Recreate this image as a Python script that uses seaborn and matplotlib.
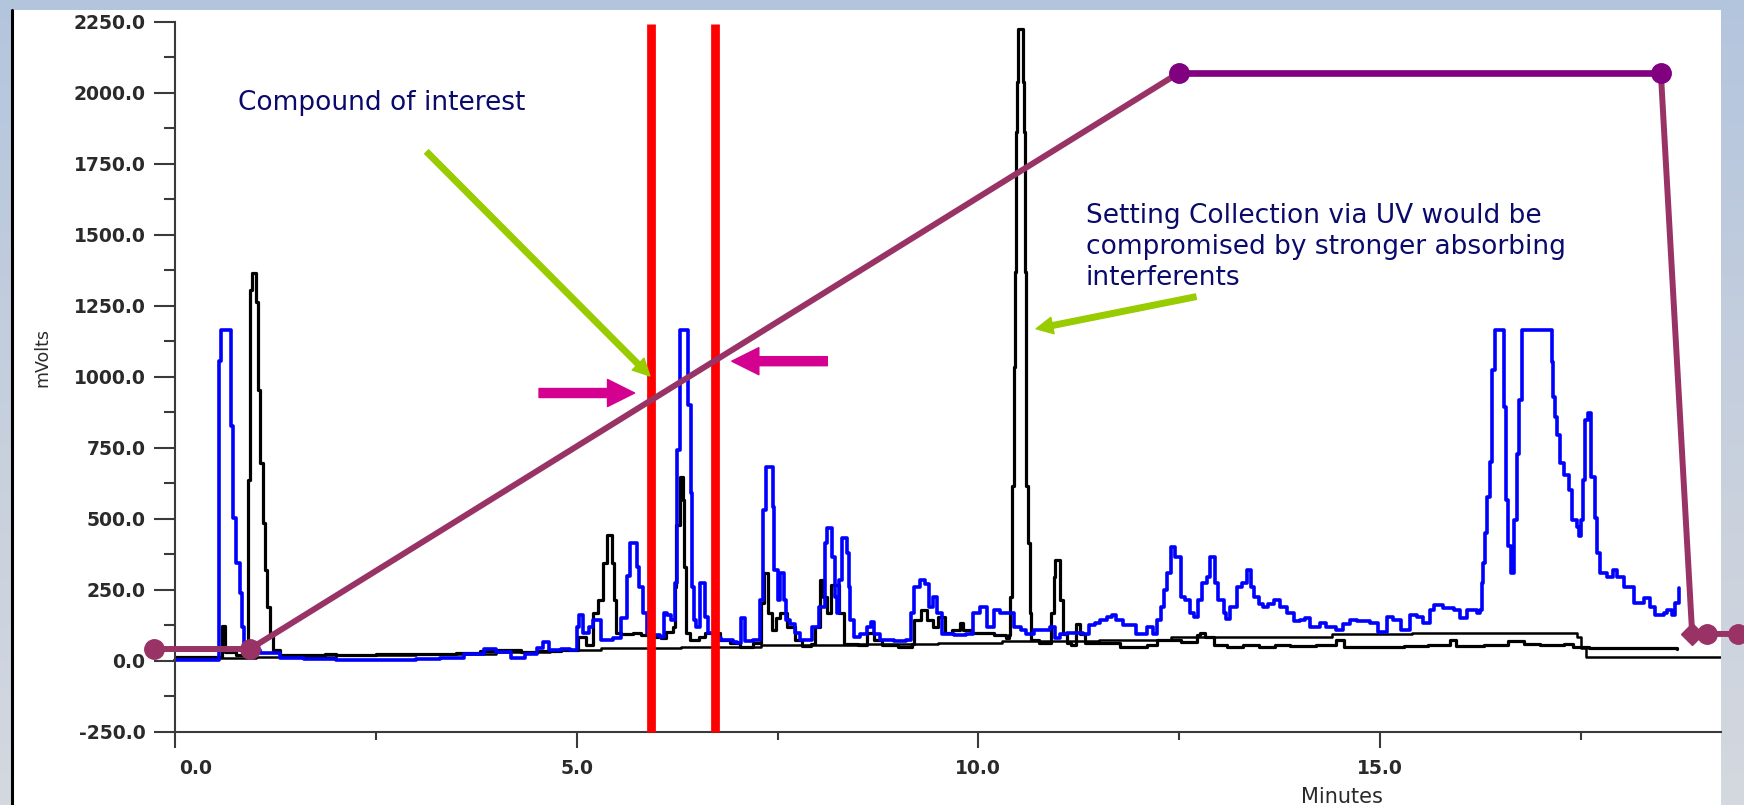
import numpy as np
import pandas as pd
import matplotlib
matplotlib.use("Agg")
import matplotlib.pyplot as plt
import seaborn as sns
from matplotlib.colors import LinearSegmentedColormap
from matplotlib.transforms import ScaledTranslation
from matplotlib.lines import Line2D

sns.set_theme(style="white")
plt.rcParams['font.family'] = ['DejaVu Sans']

# ---- data (minutes, mVolts) ----
blue_t = [0.00, 0.53, 0.54, 0.565, 0.69, 0.695, 0.72, 0.76, 0.80, 0.83, 0.86, 0.95, 1.05, 1.30,
          1.60, 2.00, 2.50, 3.00, 3.30, 3.60, 3.85, 4.00, 4.18, 4.35, 4.50, 4.58, 4.65, 4.80,
          4.92, 5.00, 5.03, 5.08, 5.15, 5.20, 5.30, 5.45, 5.55, 5.62, 5.66, 5.72, 5.75, 5.78,
          5.83, 5.88, 5.95, 6.03, 6.08, 6.12, 6.17, 6.22, 6.25, 6.29, 6.37, 6.39, 6.42, 6.44,
          6.46, 6.48, 6.53, 6.57, 6.60, 6.64, 6.72, 6.80, 6.95, 7.00, 7.04, 7.10, 7.20, 7.28,
          7.32, 7.36, 7.42, 7.44, 7.46, 7.50, 7.53, 7.58, 7.60, 7.66, 7.72, 7.78, 7.90, 7.93,
          7.99, 8.02, 8.09, 8.11, 8.16, 8.18, 8.21, 8.24, 8.27, 8.30, 8.34, 8.37, 8.39, 8.40,
          8.45, 8.53, 8.62, 8.66, 8.70, 8.78, 8.95, 9.10, 9.16, 9.20, 9.28, 9.34, 9.38, 9.44,
          9.49, 9.55, 9.70, 9.85, 9.94, 10.02, 10.11, 10.19, 10.27, 10.38, 10.44, 10.53, 10.60,
          10.69, 10.81, 10.89, 10.96, 11.02, 11.10, 11.23, 11.30, 11.38, 11.45, 11.52, 11.60,
          11.66, 11.72, 11.80, 11.88, 11.97, 12.10, 12.18, 12.22, 12.27, 12.31, 12.35, 12.40,
          12.45, 12.52, 12.58, 12.64, 12.68, 12.74, 12.78, 12.85, 12.89, 12.95, 12.99, 13.06,
          13.09, 13.13, 13.22, 13.28, 13.35, 13.39, 13.43, 13.49, 13.55, 13.61, 13.68, 13.76,
          13.84, 13.93, 14.01, 14.07, 14.13, 14.25, 14.33, 14.46, 14.54, 14.63, 14.71, 14.88,
          14.98, 15.09, 15.17, 15.26, 15.38, 15.46, 15.54, 15.63, 15.67, 15.79, 15.92, 16.00,
          16.08, 16.21, 16.25, 16.27, 16.29, 16.31, 16.33, 16.37, 16.40, 16.44, 16.54, 16.55,
          16.57, 16.60, 16.63, 16.67, 16.71, 16.73, 16.77, 17.12, 17.14, 17.16, 17.18, 17.21,
          17.24, 17.29, 17.35, 17.39, 17.45, 17.48, 17.51, 17.53, 17.56, 17.59, 17.63, 17.68,
          17.70, 17.74, 17.83, 17.91, 17.95, 18.04, 18.16, 18.29, 18.37, 18.43, 18.54, 18.58,
          18.64, 18.68, 18.72]
blue_v = [5, 5, 1054, 1165, 1165, 827, 502, 344, 238, 121, 62, 40, 27, 9,
          6, 5, 5, 8, 12, 25, 42, 30, 10, 25, 45, 68, 40, 42,
          38, 120, 162, 97, 120, 144, 74, 80, 150, 300, 414, 414, 332, 261,
          167, 97, 90, 85, 167, 160, 144, 273, 742, 1165, 1165, 900, 591, 261,
          144, 121, 273, 273, 156, 97, 80, 74, 68, 62, 150, 70, 74, 215,
          532, 684, 684, 543, 320, 215, 308, 215, 144, 131, 97, 73, 73, 120,
          120, 190, 414, 467, 467, 367, 225, 167, 285, 432, 432, 379, 261, 143,
          85, 96, 120, 137, 96, 73, 70, 73, 167, 261, 285, 270, 190, 225,
          167, 96, 90, 96, 167, 190, 120, 178, 167, 167, 120, 110, 96,
          108, 110, 120, 79, 96, 100, 100, 96, 126, 135, 143, 155,
          161, 143, 126, 126, 96, 120, 96, 143, 190, 249, 308, 402,
          367, 225, 215, 167, 155, 214, 273, 296, 367, 273, 214, 167,
          149, 190, 261, 273, 320, 261, 225, 202, 190, 202, 214, 190,
          167, 140, 144, 150, 121, 133, 121, 109, 130, 144, 140, 133,
          103, 156, 144, 109, 162, 156, 133, 180, 197, 185, 180, 150,
          180, 168, 180, 274, 344, 450, 578, 700, 1024, 1165, 1165, 895,
          566, 403, 309, 496, 730, 919, 1165, 1165, 1053, 930, 860, 795,
          695, 654, 601, 496, 473, 438, 496, 637, 848, 872, 649, 502,
          379, 309, 297, 320, 297, 262, 203, 221, 191, 162, 168, 180,
          162, 203, 256]

black_t = [0.00, 0.55, 0.586, 0.62, 0.75, 0.90, 0.91, 0.93, 0.95, 1.00, 1.005, 1.034, 1.055,
           1.088, 1.117, 1.146, 1.179, 1.221, 1.30, 1.87, 2.00, 2.50, 3.00, 3.50, 3.80, 4.00,
           4.30, 4.50, 4.80, 5.02, 5.12, 5.20, 5.27, 5.33, 5.38, 5.42, 5.44, 5.46, 5.49, 5.55,
           5.70, 5.80, 5.90, 6.05, 6.11, 6.20, 6.22, 6.24, 6.28, 6.31, 6.32, 6.33, 6.36, 6.41,
           6.52, 6.60, 6.66, 6.78, 6.91, 7.03, 7.19, 7.29, 7.33, 7.38, 7.43, 7.48, 7.53, 7.62,
           7.72, 7.81, 7.92, 7.97, 8.03, 8.07, 8.11, 8.17, 8.22, 8.26, 8.33, 8.50, 8.62, 8.70,
           8.80, 9.00, 9.18, 9.20, 9.29, 9.36, 9.43, 9.50, 9.58, 9.67, 9.77, 9.81, 9.91, 10.00,
           10.10, 10.20, 10.34, 10.38, 10.40, 10.42, 10.44, 10.46, 10.47, 10.48, 10.49, 10.54,
           10.555, 10.565, 10.58, 10.59, 10.60, 10.62, 10.64, 10.66, 10.75, 10.85, 10.90, 10.94,
           10.96, 11.00, 11.02, 11.06, 11.10, 11.16, 11.22, 11.27, 11.33, 11.50, 11.64, 11.77,
           11.93, 12.10, 12.22, 12.40, 12.52, 12.72, 12.76, 12.82, 12.93, 13.10, 13.30, 13.50,
           13.70, 13.88, 14.20, 14.46, 14.55, 14.90, 15.30, 15.60, 15.88, 15.95, 16.30, 16.60,
           16.80, 17.00, 17.30, 17.40, 17.60, 18.00, 18.40, 18.70]
black_v = [15, 15, 124, 30, 20, 25, 638, 1306, 1365, 1365, 1265, 953, 696,
           485, 320, 191, 97, 38, 21, 26, 22, 25, 25, 28, 35, 38,
           32, 35, 39, 85, 56, 167, 215, 344, 444, 444, 344, 215, 97, 95,
           100, 90, 85, 80, 103, 121, 261, 478, 649, 649, 567, 332, 97, 74,
           85, 97, 100, 74, 62, 50, 62, 203, 308, 168, 109, 150, 168, 121,
           74, 51, 61, 120, 285, 225, 167, 267, 267, 167, 61, 55, 97, 74,
           55, 50, 60, 143, 179, 144, 121, 156, 97, 109, 132, 109, 97, 100,
           97, 91, 80, 90, 225, 614, 1036, 1370, 1863, 2039, 2224, 2224,
           2039, 1863, 1370, 1036, 614, 415, 167, 73, 62, 62, 167, 296,
           355, 355, 214, 96, 62, 56, 131, 96, 62, 62, 62, 50,
           50, 55, 73, 73, 67, 90, 100, 85, 56, 50, 55, 50,
           55, 52, 55, 75, 50, 48, 52, 55, 75, 52, 55, 70,
           60, 55, 60, 50, 46, 46, 46, 42]

drift_t = [0.0, 1.0, 2.0, 3.0, 4.0, 4.67, 5.3, 6.3, 7.3, 8.5, 9.5, 10.3, 11.5, 12.3, 12.4,
           13.9, 14.4, 15.4, 17.39, 17.45, 17.50, 17.57, 19.25]
drift_v = [12, 15, 20, 25, 32, 39, 45, 50, 56, 58, 62, 70, 73, 75, 84,
           86, 95, 100, 100, 85, 45, 15, 15]

grad_t = [-0.26, 0.93, 12.5, 18.5, 18.89, 19.54]
grad_v = [42, 42, 2070, 2070, 95, 95]
end_dots_t = [19.07, 19.46]

cut_times = [5.92, 6.72]

y_major = [-250, 0, 250, 500, 750, 1000, 1250, 1500, 1750, 2000, 2250]
y_minor = [-125, 125, 375, 625, 875, 1125, 1375, 1625, 1875, 2125]
x_major = [0, 5, 10, 15]
x_minor = [2.5, 7.5, 12.5, 17.5]

NAVY = "#0a0a6b"
MAROON = "#993366"
PURPLE = "#800080"
GREEN = "#99CC00"
MAGENTA = "#D4008F"
AXC = "#3a3a3a"
LBL = "#2a2a2a"

W, H = 1744, 805
fig = plt.figure(figsize=(W / 100, H / 100), dpi=100)

# slide background
bg = fig.add_axes([0, 0, 1, 1], zorder=-10)
cmap = LinearSegmentedColormap.from_list("bg", ["#B3C5DD", "#C6CFDD", "#D4D8DF"])
bg.imshow(np.linspace(0, 1, 256).reshape(-1, 1), aspect="auto", cmap=cmap,
          extent=[0, 1, 0, 1])
bg.set_axis_off()

ax = fig.add_axes([13 / W, 0, (1721 - 13) / W, (H - 10) / H])
ax.set_facecolor("white")

sns.lineplot(x=drift_t, y=drift_v, ax=ax, color="black", lw=1.8,
             drawstyle="steps-post", estimator=None, sort=False, zorder=2)
sns.lineplot(x=black_t, y=black_v, ax=ax, color="black", lw=2.3,
             drawstyle="steps-post", estimator=None, sort=False, zorder=2)
sns.lineplot(x=blue_t, y=blue_v, ax=ax, color="#0000FF", lw=2.6,
             drawstyle="steps-post", estimator=None, sort=False, zorder=2.5)

ax.vlines(cut_times, -250, 2240, colors="#FF0000", lw=6.3, zorder=3)

# gradient profile
ax.plot(grad_t[:3], grad_v[:3], color=MAROON, lw=4.3, zorder=4, solid_capstyle="butt")
ax.plot(grad_t[2:4], grad_v[2:4], color=PURPLE, lw=4.8, zorder=4)
ax.plot(grad_t[3:], grad_v[3:], color=MAROON, lw=4.3, zorder=4, clip_on=False)
ax.plot(grad_t[:2], grad_v[:2], "o", color=MAROON, ms=14, zorder=5)
ax.plot(grad_t[2:4], grad_v[2:4], "o", color=PURPLE, ms=14, zorder=5)
ax.plot(grad_t[4], grad_v[4], "D", color=MAROON, ms=11, zorder=5, clip_on=False)
ax.plot(end_dots_t, [grad_v[-1]] * 2, "o", color=MAROON, ms=14, zorder=5, clip_on=False)

ax.set_xlim(-2.021, 19.249)
ax.set_ylim(-507, 2291)

for s in ["top", "right"]:
    ax.spines[s].set_visible(False)
ax.spines["left"].set_position(("data", 0))
ax.spines["left"].set_bounds(-250, 2250)
ax.spines["bottom"].set_position(("data", -250))
ax.spines["bottom"].set_bounds(0, 19.249)
for s in ["left", "bottom"]:
    ax.spines[s].set_color(AXC)
    ax.spines[s].set_linewidth(1.5)

ax.set_yticks(y_major)
ax.set_yticklabels([f"{v:.1f}" for v in y_major], fontweight="bold")
ax.set_yticks(y_minor, minor=True)
ax.set_xticks(x_major)
ax.set_xticklabels([f"{v:.1f}" for v in x_major], fontweight="bold")
ax.set_xticks(x_minor, minor=True)
ax.tick_params(which="both", left=True, bottom=True, direction="out", color=AXC, width=1.5)
ax.tick_params(axis="y", which="major", length=15, pad=6.5, labelsize=13.5, labelcolor=LBL)
ax.tick_params(axis="y", which="minor", length=7.7)
ax.tick_params(axis="x", which="major", length=11.5, pad=8, labelsize=13.5, labelcolor=LBL)
ax.tick_params(axis="x", which="minor", length=6)
zero_lbl = ax.get_xticklabels()[0]
zero_lbl.set_horizontalalignment("left")
zero_lbl.set_transform(zero_lbl.get_transform() + ScaledTranslation(0.04, 0, fig.dpi_scale_trans))

ax.set_xlabel("Minutes", fontsize=15, color=LBL)
ax.xaxis.set_label_coords(0.778, 0.0226)
ax.xaxis.label.set_verticalalignment("top")
ax.text(0.017, 0.5623, "mVolts", transform=ax.transAxes, rotation=90, fontsize=12.5,
        color=LBL, ha="center", va="center")

# annotations (multi-line text: baseline refers to the last line)
ax.text(0.78, 1940, "Compound of interest", color=NAVY, fontsize=19, va="baseline", zorder=7)
ax.text(11.34, 1323, "Setting Collection via UV would be\ncompromised by stronger absorbing\ninterferents",
        color=NAVY, fontsize=19, va="baseline", linespacing=1.25, zorder=7)

green = dict(arrowstyle="simple,head_length=12,head_width=12,tail_width=4",
             color=GREEN, mutation_scale=1, shrinkA=0, shrinkB=0)
ax.annotate("", xy=(5.91, 1003), xytext=(3.13, 1792), arrowprops=green, zorder=8)
ax.annotate("", xy=(10.72, 1169), xytext=(12.71, 1282), arrowprops=green, zorder=8)
pink = dict(arrowstyle="simple,head_length=19.5,head_width=19.5,tail_width=6.5",
            color=MAGENTA, mutation_scale=1, shrinkA=0, shrinkB=0)
ax.annotate("", xy=(5.72, 943), xytext=(4.53, 943), arrowprops=pink, zorder=8)
ax.annotate("", xy=(6.93, 1055), xytext=(8.12, 1055), arrowprops=pink, zorder=8)

# screenshot border on the left
fig.add_artist(Line2D([11.5 / W, 11.5 / W], [0, (H - 10) / H], color="black", lw=2.2))

fig.savefig("out.png", dpi=100)
